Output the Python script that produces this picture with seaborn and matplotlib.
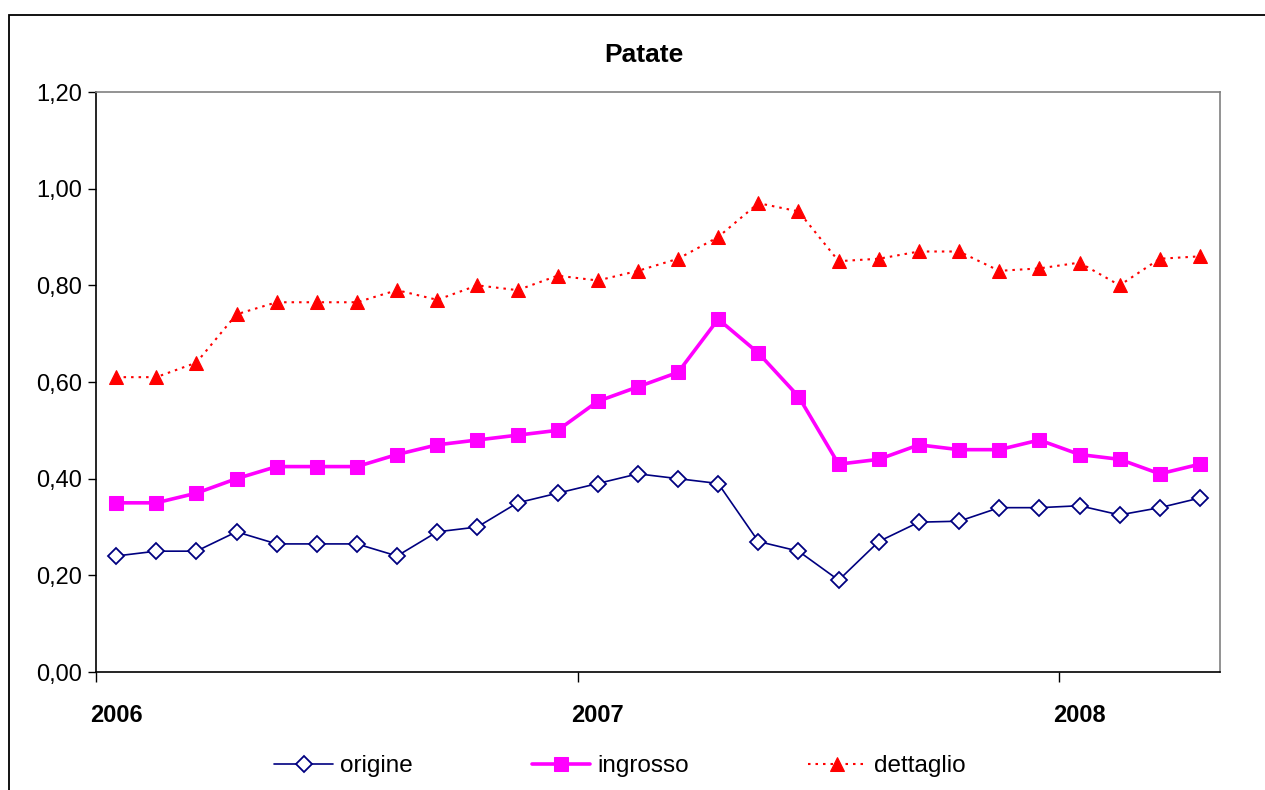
import matplotlib
matplotlib.use("Agg")
import matplotlib.pyplot as plt
from matplotlib.patches import Rectangle
from matplotlib.ticker import FixedLocator, FuncFormatter, NullFormatter
import seaborn as sns
import pandas as pd

# ---- data ----
months = list(range(28))  # Jan 2006 .. Apr 2008
origine = [0.24, 0.25, 0.25, 0.29, 0.265, 0.265, 0.265, 0.24, 0.29, 0.30, 0.35, 0.37,
           0.39, 0.41, 0.40, 0.39, 0.27, 0.25, 0.19, 0.27, 0.31, 0.312, 0.34, 0.34,
           0.344, 0.325, 0.34, 0.36]
ingrosso = [0.35, 0.35, 0.37, 0.40, 0.425, 0.425, 0.425, 0.45, 0.47, 0.48, 0.49, 0.50,
            0.56, 0.59, 0.62, 0.73, 0.66, 0.57, 0.43, 0.44, 0.47, 0.46, 0.46, 0.48,
            0.45, 0.44, 0.41, 0.43]
dettaglio = [0.61, 0.61, 0.64, 0.74, 0.765, 0.765, 0.765, 0.79, 0.77, 0.80, 0.79, 0.82,
             0.81, 0.83, 0.855, 0.90, 0.97, 0.953, 0.85, 0.855, 0.87, 0.87, 0.83, 0.835,
             0.847, 0.80, 0.855, 0.86]
year_labels = ["2006", "2007", "2008"]
year_positions = [0, 12, 24]
series_names = ["origine", "ingrosso", "dettaglio"]
title = "Patate"

sns.set_theme(style="white")
plt.rcParams['font.family'] = ['Liberation Sans', 'DejaVu Sans']
plt.rcParams['text.color'] = 'black'
plt.rcParams['axes.labelcolor'] = 'black'
plt.rcParams['xtick.color'] = 'black'
plt.rcParams['ytick.color'] = 'black'

W, H = 1265, 790
fig = plt.figure(figsize=(W / 100, H / 100), dpi=100)
ax = fig.add_axes([96 / W, 1 - 672 / H, (1220 - 96) / W, (672 - 92) / H])

df = pd.DataFrame({"m": months, "origine": origine, "ingrosso": ingrosso, "dettaglio": dettaglio})

sns.lineplot(data=df, x="m", y="origine", ax=ax, color="#000080", linewidth=1.2,
             marker="D", markersize=8, markerfacecolor="white", markeredgecolor="#000080",
             markeredgewidth=1.3, label=series_names[0])
sns.lineplot(data=df, x="m", y="ingrosso", ax=ax, color="#FF00FF", linewidth=2.6,
             marker="s", markersize=9.5, markerfacecolor="#FF00FF", markeredgecolor="#FF00FF",
             label=series_names[1])
sns.lineplot(data=df, x="m", y="dettaglio", ax=ax, color="#FF0000", linewidth=1.5,
             linestyle=(0, (1.2, 2.4)), marker="^", markersize=10.5,
             markerfacecolor="#FF0000", markeredgecolor="#FF0000", label=series_names[2])

ax.set_xlim(-0.5, 27.5)
ax.set_ylim(0, 1.2)
ax.set_xlabel("")
ax.set_ylabel("")

ax.set_yticks([0, 0.2, 0.4, 0.6, 0.8, 1.0, 1.2])
ax.yaxis.set_major_formatter(FuncFormatter(lambda v, p: f"{v:.2f}".replace(".", ",")))
ax.tick_params(axis="y", which="major", left=True, length=6, width=1, color="black",
               labelsize=17, pad=4, labelcolor="black")

ax.xaxis.set_major_locator(FixedLocator([-0.5, 11.5, 23.5]))
ax.xaxis.set_major_formatter(NullFormatter())
ax.xaxis.set_minor_locator(FixedLocator(year_positions))
ax.set_xticklabels(year_labels, minor=True)
ax.tick_params(axis="x", which="major", bottom=True, length=7, width=1, color="black")
ax.tick_params(axis="x", which="minor", bottom=True, length=0, labelsize=17, pad=23,
               labelcolor="black")
for t in ax.get_xticklabels(minor=True):
    t.set_fontweight("bold")

for s in ["left", "bottom"]:
    ax.spines[s].set_color("black")
    ax.spines[s].set_linewidth(1.2)
for s in ["top", "right"]:
    ax.spines[s].set_color("#808080")
    ax.spines[s].set_linewidth(1.2)
ax.grid(False)

fig.text(644 / W, 1 - 55 / H, title, ha="center", va="center", fontsize=19,
         fontweight="bold", color="black")

handles, labels = ax.get_legend_handles_labels()
ax.get_legend().remove()
leg = fig.legend(handles, labels, loc="center", bbox_to_anchor=(620 / W, 1 - 766 / H), ncol=3,
                 frameon=False, fontsize=17.5, handlelength=2.4, handletextpad=0.3,
                 columnspacing=4.9)
for t in leg.get_texts():
    t.set_color("black")

# outer chart border
fig.patches.append(Rectangle((9 / W, -0.05), 1.2, 1 - 15 / H + 0.05, transform=fig.transFigure,
                             fill=False, edgecolor="black", linewidth=1.3))

fig.savefig("out.png", dpi=100)
